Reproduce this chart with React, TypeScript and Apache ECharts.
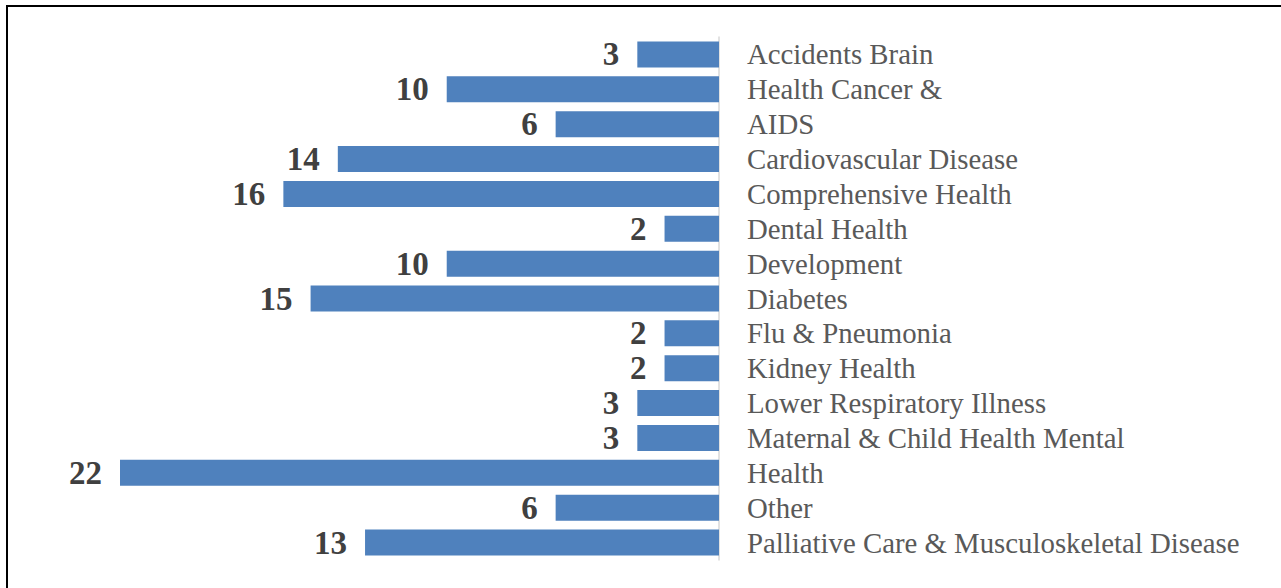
import React, { useEffect, useRef } from "react";
import * as echarts from "echarts";

const categories = [
  "Accidents Brain",
  "Health Cancer &",
  "AIDS",
  "Cardiovascular Disease",
  "Comprehensive Health",
  "Dental Health",
  "Development",
  "Diabetes",
  "Flu & Pneumonia",
  "Kidney Health",
  "Lower Respiratory Illness",
  "Maternal & Child Health Mental",
  "Health",
  "Other",
  "Palliative Care & Musculoskeletal Disease",
];
const values = [3, 10, 6, 14, 16, 2, 10, 15, 2, 2, 3, 3, 22, 6, 13];

const SERIF = '"Liberation Serif", "Times New Roman", "DejaVu Serif", serif';

export default function App() {
  const ref = useRef<HTMLDivElement>(null);
  useEffect(() => {
    if (!ref.current) return;
    const chart = echarts.init(ref.current, undefined, { renderer: "svg" });
    chart.setOption({
      animation: false,
      backgroundColor: "#ffffff",
      graphic: [
        {
          type: "rect",
          shape: { x: 7, y: 6, width: 1300, height: 620 },
          style: { fill: "none", stroke: "#000000", lineWidth: 2 },
          silent: true,
        },
      ],
      grid: { left: 120, right: 562, top: 37, bottom: 28, containLabel: false },
      xAxis: {
        type: "value",
        inverse: true,
        min: 0,
        max: 22,
        show: false,
        splitLine: { show: false },
      },
      yAxis: {
        type: "category",
        inverse: true,
        position: "right",
        data: categories,
        axisLine: { show: true, lineStyle: { color: "#D9D9D9", width: 1.5 } },
        axisTick: { show: false },
        axisLabel: {
          interval: 0,
          hideOverlap: false,
          align: "left",
          margin: 28,
          fontFamily: SERIF,
          fontSize: 28.8,
          lineHeight: 30,
          color: "#595959",
          padding: [0, 0, 4, 0],
        },
      },
      series: [
        {
          type: "bar",
          data: values,
          barWidth: 26,
          itemStyle: { color: "#4F81BD" },
          label: {
            show: true,
            position: "left",
            distance: 18,
            fontFamily: SERIF,
            fontSize: 33,
            lineHeight: 34,
            fontWeight: "bold",
            color: "#404040",
          },
          labelLayout: { hideOverlap: false },
        },
      ],
    });
    return () => chart.dispose();
  }, []);
  return (
    <div
      ref={ref}
      style={{ position: "absolute", left: 0, top: 0, width: 1281, height: 588 }}
    />
  );
}
